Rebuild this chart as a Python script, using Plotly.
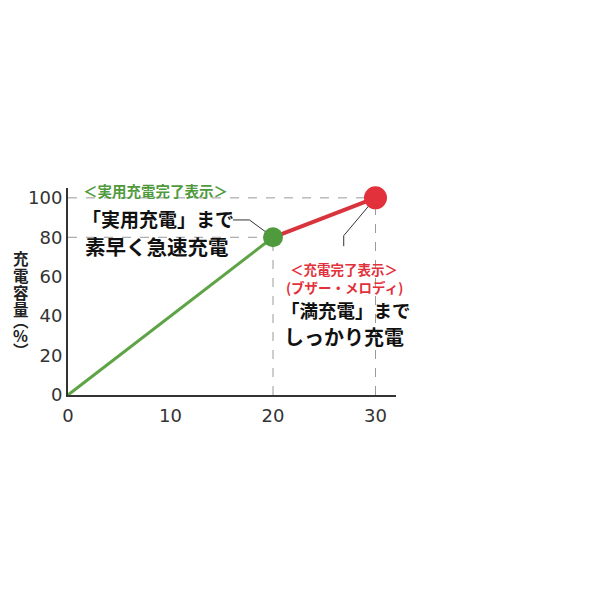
import plotly.graph_objects as go

# charge time (min) vs charge capacity (%)
time_min = [0, 20, 30]
capacity = [0, 80, 100]

x_ticks = [0, 10, 20, 30]
y_ticks = [0, 20, 40, 60, 80, 100]

y_title = "充電容量︵%︶"   # written top to bottom

green = "#4f9a3c"
red = "#e2313b"
jp = "Noto Sans CJK JP"

fig = go.Figure()

# quick charge part (green) and top-up part (red)
fig.add_trace(go.Scatter(x=time_min[:2], y=capacity[:2], mode="lines",
                         line=dict(color="#5ea447", width=3), hoverinfo="skip"))
fig.add_trace(go.Scatter(x=time_min[1:], y=capacity[1:], mode="lines",
                         line=dict(color="#d8343e", width=4), hoverinfo="skip"))
fig.add_trace(go.Scatter(x=[time_min[1]], y=[capacity[1]], mode="markers",
                         marker=dict(color=green, size=20), hoverinfo="skip"))
fig.add_trace(go.Scatter(x=[time_min[2]], y=[capacity[2]], mode="markers",
                         marker=dict(color=red, size=23), cliponaxis=False,
                         hoverinfo="skip"))

# dashed guide lines
dash = dict(color="#9a9a9a", width=1, dash="dash")
for t, c in zip(time_min[1:], capacity[1:]):
    fig.add_shape(type="line", x0=0, x1=t, y0=c, y1=c, line=dash, layer="below")
    fig.add_shape(type="line", x0=t, x1=t, y0=0, y1=c, line=dash, layer="below")

# leader lines to the callouts
lead = dict(color="#333", width=1)
for x0, y0, x1, y1 in [(16.1, 88.8, 17.7, 88.8), (17.7, 88.8, 20, 80),
                       (26.9, 75.5, 26.9, 80.8), (26.9, 80.8, 30, 100)]:
    fig.add_shape(type="line", x0=x0, y0=y0, x1=x1, y1=y1, line=lead, layer="below")

notes = [
    ("<b>＜実用充電完了表示＞</b>", 8.5, 103.6, 14.5, green),
    ("<b>「実用充電」まで</b>", 8.8, 89.3, 19, "#111"),
    ("<b>素早く急速充電</b>", 8.7, 75.4, 20.5, "#111"),
    ("<b>＜充電完了表示＞</b>", 26.9, 63.9, 13.5, red),
    ("<b>(ブザー・メロディ)</b>", 27.0, 55.0, 13.5, red),
    ("<b>「満充電」まで</b>", 27.1, 43.1, 18.5, "#111"),
    ("<b>しっかり充電</b>", 26.9, 29.9, 20, "#111"),
]
for txt, x, y, size, col in notes:
    fig.add_annotation(x=x, y=y, text=txt, showarrow=False, xanchor="center",
                       yanchor="middle", font=dict(family=jp, size=size, color=col))

# vertical axis title, one character at a time (pixel rows inside the page)
title_rows = [258, 275, 292, 309, 320, 335, 350]
for ch, row in zip(y_title, title_rows):
    fig.add_annotation(xref="paper", yref="paper", x=-0.1435, y=(395 - row) / 207,
                       xanchor="center", yanchor="middle", showarrow=False,
                       text="<b>" + ch + "</b>",
                       font=dict(family=jp, size=15.5, color="#222"))

fig.update_layout(
    width=600, height=600,
    margin=dict(l=60, r=212, t=180, b=213),
    paper_bgcolor="white", plot_bgcolor="white",
    showlegend=False,
    xaxis=dict(range=[0, 32], tickvals=x_ticks, showgrid=False, zeroline=False,
               showline=True, linecolor="#333", linewidth=2,
               ticks="outside", ticklen=3, tickcolor="rgba(0,0,0,0)",
               tickfont=dict(family="DejaVu Sans", size=18, color="#333")),
    yaxis=dict(range=[0, 105], tickvals=y_ticks, showgrid=False, zeroline=False,
               showline=True, linecolor="#333", linewidth=2, ticks="",
               tickfont=dict(family="DejaVu Sans", size=18, color="#333")),
)

fig.write_html("out.html")
